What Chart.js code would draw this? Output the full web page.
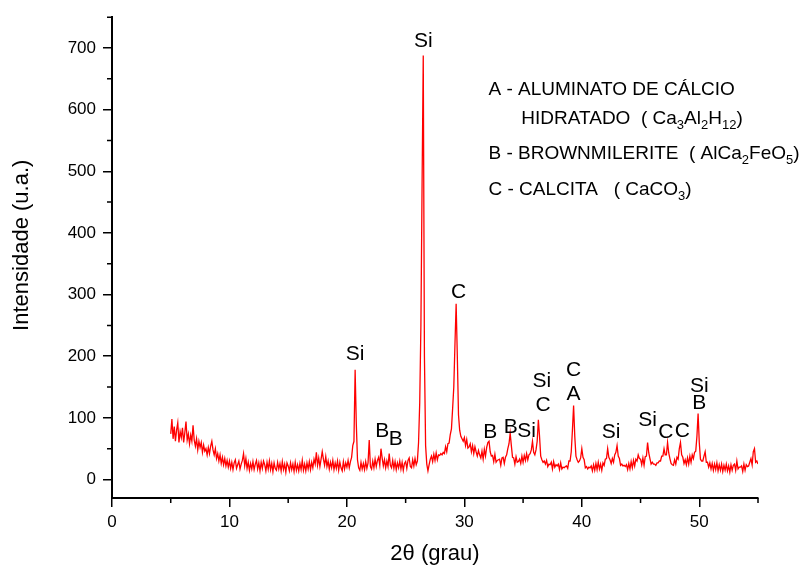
<!DOCTYPE html>
<html>
<head>
<meta charset="utf-8">
<script src="https://cdn.jsdelivr.net/npm/chart.js@4.4.0/dist/chart.umd.min.js"></script>
<style>
  html, body { margin: 0; padding: 0; background: #fff; }
  #wrap { width: 803px; height: 572px; position: relative; }
</style>
</head>
<body>
<div id="wrap"><canvas id="xrd"></canvas></div>
<script>
// Difratograma: intensidade, 2θ de 5.0 a 55.0 com passo de 0.1
const angleStart = 5.0;
const angleStep = 0.1;
const intensity = [
  74, 98, 66, 86, 62, 80, 92, 60, 78, 68,   // 5
  84, 60, 76, 94, 64, 74, 58, 72, 62, 88,   // 6
  64, 54, 66, 48, 62, 52, 60, 44, 56, 46,   // 7
  50, 40, 52, 42, 54, 62, 48, 40, 50, 34,   // 8
  42, 30, 40, 26, 36, 24, 34, 22, 31, 20,   // 9
  30, 18, 28, 16, 27, 32, 18, 24, 30, 17,   // 10
  25, 31, 42, 22, 34, 18, 28, 15, 26, 17,   // 11
  29, 16, 25, 31, 17, 27, 14, 28, 18, 30,   // 12
  24, 14, 28, 17, 30, 16, 26, 13, 27, 18,   // 13
  15, 28, 17, 26, 14, 29, 16, 25, 12, 27,   // 14
  22, 14, 27, 16, 25, 13, 28, 15, 24, 14,   // 15
  26, 16, 31, 15, 25, 14, 27, 17, 29, 16,   // 16
  28, 19, 33, 25, 44, 23, 35, 21, 33, 45,   // 17
  33, 23, 37, 21, 30, 17, 28, 19, 31, 16,   // 18
  27, 18, 30, 15, 28, 19, 14, 29, 17, 27,   // 19
  20, 31, 19, 29, 36, 55, 62, 178, 90, 32,  // 20
  19, 15, 28, 17, 26, 16, 29, 18, 27, 64,   // 21
  21, 17, 30, 19, 33, 21, 31, 36, 23, 50,   // 22
  35, 22, 32, 19, 30, 21, 42, 23, 19, 31,   // 23
  18, 29, 16, 27, 19, 30, 17, 28, 15, 26,   // 24
  29, 18, 31, 35, 21, 19, 32, 22, 34, 24,   // 25
  30, 60, 125, 250, 480, 688, 200, 55, 25, 14, // 26
  24, 33, 38, 29, 41, 31, 43, 32, 40, 39,   // 27
  42, 40, 44, 42, 53, 45, 58, 59, 73, 82,   // 28
  115, 150, 220, 285, 200, 105, 80, 70, 66, 62, // 29
  68, 55, 65, 51, 53, 58, 45, 55, 42, 53,   // 30
  45, 38, 47, 40, 35, 46, 33, 49, 38, 52,   // 31
  60, 62, 45, 38, 39, 29, 41, 28, 31, 32,   // 32
  33, 23, 35, 36, 26, 36, 40, 50, 58, 75,   // 33
  55, 36, 35, 25, 37, 28, 29, 33, 26, 38,   // 34
  28, 39, 31, 42, 32, 40, 42, 48, 62, 44,   // 35
  40, 48, 62, 97, 70, 38, 32, 28, 30, 25,   // 36
  31, 21, 25, 24, 28, 17, 29, 20, 24, 22,   // 37
  25, 16, 27, 17, 20, 19, 21, 22, 18, 30,   // 38
  30, 45, 80, 120, 70, 38, 32, 28, 30, 35,  // 39
  50, 36, 32, 19, 21, 17, 20, 19, 22, 14,   // 40
  24, 15, 26, 16, 28, 17, 25, 15, 27, 23,   // 41
  33, 34, 50, 36, 32, 26, 34, 28, 40, 44,   // 42
  55, 38, 34, 23, 25, 22, 23, 21, 24, 16,   // 43
  26, 17, 29, 19, 31, 22, 33, 30, 40, 34,   // 44
  33, 24, 35, 23, 37, 38, 60, 43, 34, 25,   // 45
  28, 25, 25, 23, 27, 27, 30, 30, 38, 38,   // 46
  50, 40, 40, 60, 43, 34, 26, 24, 23, 32,   // 47
  25, 36, 33, 50, 60, 40, 36, 26, 32, 24,   // 48
  35, 25, 38, 28, 40, 34, 44, 46, 70, 107,  // 49
  60, 33, 30, 30, 38, 45, 28, 28, 20, 27,   // 50
  17, 26, 15, 25, 16, 27, 14, 24, 15, 25,   // 51
  13, 23, 15, 25, 14, 22, 12, 24, 15, 23,   // 52
  25, 15, 30, 17, 20, 20, 22, 13, 25, 15,   // 53
  24, 21, 22, 28, 34, 24, 45, 50, 28, 30,   // 54
  25                                        // 55
];

// Ticks
const xTicks = [0, 10, 20, 30, 40, 50];
const xMinorTicks = [5, 15, 25, 35, 45, 55];
const yTicks = [0, 100, 200, 300, 400, 500, 600, 700];
const yMinorTicks = [50, 150, 250, 350, 450, 550, 650, 750];

// Identificação dos picos (texto, posição em 2θ e intensidade)
const peakText = ['Si', 'Si', 'B', 'B', 'C', 'B', 'B', 'Si', 'Si', 'C', 'C', 'A', 'Si', 'Si', 'C', 'C', 'Si', 'B'];
const peakAngle = [20.7, 26.5, 23.0, 24.15, 29.5, 32.2, 33.95, 35.3, 36.6, 36.7, 39.3, 39.3, 42.5, 45.6, 47.15, 48.55, 50.0, 50.0];
const peakHeight = [204, 711, 79, 66, 304, 77, 85, 79, 159, 121, 177, 138, 77, 96, 77, 79, 152, 123];

// Legenda das fases: [texto, subscrito?]
const phaseLines = [
  [['A - ALUMINATO DE CÁLCIO', false]],
  [['HIDRATADO  ( Ca', false], ['3', true], ['Al', false], ['2', true], ['H', false], ['12', true], [')', false]],
  [['B - BROWNMILERITE  ( AlCa', false], ['2', true], ['FeO', false], ['5', true], [')', false]],
  [['C - CALCITA   ( CaCO', false], ['3', true], [')', false]]
];

const FONT = '"Liberation Sans", Arial, Helvetica, sans-serif';
Chart.defaults.font.family = FONT;
Chart.defaults.color = '#000';

const points = intensity.map((v, i) => ({ x: angleStart + i * angleStep, y: v }));

// Ticks menores, rótulos dos picos, título do eixo y e legenda das fases
const annotationsPlugin = {
  id: 'annotations',
  afterDraw(chart) {
    const { ctx, scales: { x, y } } = chart;
    ctx.save();

    // ticks menores
    ctx.strokeStyle = '#000';
    ctx.lineWidth = 1.5;
    ctx.beginPath();
    xMinorTicks.forEach(v => {
      const px = x.getPixelForValue(v);
      ctx.moveTo(px, y.bottom);
      ctx.lineTo(px, y.bottom + 5);
    });
    yMinorTicks.forEach(v => {
      const py = y.getPixelForValue(v);
      ctx.moveTo(x.left, py);
      ctx.lineTo(x.left - 5, py);
    });
    ctx.stroke();

    // título do eixo y
    ctx.fillStyle = '#000';
    ctx.save();
    ctx.translate(22, y.getPixelForValue(380));
    ctx.rotate(-Math.PI / 2);
    ctx.font = '22px ' + FONT;
    ctx.textAlign = 'center';
    ctx.textBaseline = 'middle';
    ctx.fillText('Intensidade (u.a.)', 0, 0);
    ctx.restore();

    // rótulos dos picos
    ctx.font = '21px ' + FONT;
    ctx.textAlign = 'center';
    ctx.textBaseline = 'middle';
    peakText.forEach((t, i) => {
      ctx.fillText(t, x.getPixelForValue(peakAngle[i]), y.getPixelForValue(peakHeight[i]));
    });

    // legenda das fases
    ctx.textAlign = 'left';
    ctx.textBaseline = 'alphabetic';
    const lineX = [32.05, 34.85, 32.05, 32.05];
    const lineY = [624, 577, 520, 462];
    phaseLines.forEach((segs, i) => {
      let px = x.getPixelForValue(lineX[i]);
      const py = y.getPixelForValue(lineY[i]);
      segs.forEach(([txt, sub]) => {
        ctx.font = (sub ? '13px ' : '19px ') + FONT;
        ctx.fillText(txt, px, sub ? py + 5 : py);
        px += ctx.measureText(txt).width;
      });
    });

    ctx.restore();
  }
};

new Chart(document.getElementById('xrd'), {
  type: 'line',
  data: {
    datasets: [{
      data: points,
      borderColor: '#f00',
      borderWidth: 1.3,
      pointRadius: 0,
      tension: 0,
      fill: false
    }]
  },
  options: {
    responsive: true,
    maintainAspectRatio: false,
    animation: false,
    layout: { padding: { top: 15, right: 45, left: 0, bottom: 0 } },
    plugins: {
      legend: { display: false },
      tooltip: { enabled: false }
    },
    scales: {
      x: {
        type: 'linear',
        min: 0,
        max: 55,
        afterBuildTicks: s => { s.ticks = xTicks.map(v => ({ value: v })); },
        afterFit: s => { s.height = 74; },
        ticks: { font: { size: 17 }, color: '#000', padding: 5, maxRotation: 0 },
        grid: { drawOnChartArea: false, color: '#000', lineWidth: 1.5, tickLength: 9 },
        border: { color: '#000', width: 2 },
        title: { display: true, text: '2θ (grau)', font: { size: 22 }, color: '#000', padding: { bottom: 5 } }
      },
      y: {
        min: -30,
        max: 750,
        afterBuildTicks: s => { s.ticks = yTicks.map(v => ({ value: v })); },
        afterFit: s => { s.width = 112; },
        ticks: { font: { size: 17 }, color: '#000', padding: 7 },
        grid: { drawOnChartArea: false, color: '#000', lineWidth: 1.5, tickLength: 9 },
        border: { color: '#000', width: 2 },
        title: { display: false }
      }
    }
  },
  plugins: [annotationsPlugin]
});
</script>
</body>
</html>
